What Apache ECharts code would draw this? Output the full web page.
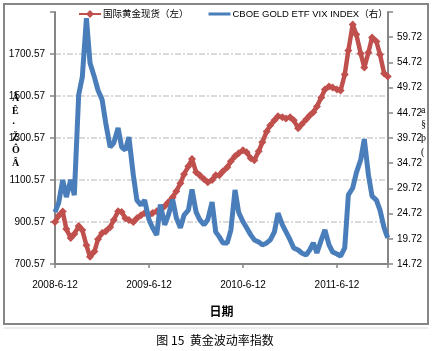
<!DOCTYPE html>
<html><head><meta charset="utf-8">
<script src="https://cdn.jsdelivr.net/npm/echarts@6/dist/echarts.min.js"></script>
<style>html,body{margin:0;padding:0;background:#fff}#c{width:432px;height:351px}</style>
</head><body><div id="c"></div>
<script>
// Sample dates (half-monthly)
const dates = [
 '2008-06-12','2008-06-26','2008-07-12','2008-07-26','2008-08-12','2008-08-26','2008-09-12','2008-09-26','2008-10-12','2008-10-26','2008-11-12','2008-11-26','2008-12-12','2008-12-26',
 '2009-01-12','2009-01-26','2009-02-12','2009-02-26','2009-03-12','2009-03-26','2009-04-12','2009-04-26','2009-05-12','2009-05-26','2009-06-12','2009-06-26','2009-07-12','2009-07-26','2009-08-12','2009-08-26','2009-09-12','2009-09-26','2009-10-12','2009-10-26','2009-11-12','2009-11-26','2009-12-12','2009-12-26',
 '2010-01-12','2010-01-26','2010-02-12','2010-02-26','2010-03-12','2010-03-26','2010-04-12','2010-04-26','2010-05-12','2010-05-26','2010-06-12','2010-06-26','2010-07-12','2010-07-26','2010-08-12','2010-08-26','2010-09-12','2010-09-26','2010-10-12','2010-10-26','2010-11-12','2010-11-26','2010-12-12','2010-12-26',
 '2011-01-12','2011-01-26','2011-02-12','2011-02-26','2011-03-12','2011-03-26','2011-04-12','2011-04-26','2011-05-12','2011-05-26','2011-06-12','2011-06-26','2011-07-12','2011-07-26','2011-08-12','2011-08-26','2011-09-12','2011-09-26','2011-10-12','2011-10-26','2011-11-12','2011-11-26','2011-12-12','2011-12-26'
];
// 国际黄金现货 (left axis)
const goldSpot = [
 900,930,950,867,824,843,881,862,790,735,760,819,848,857,
 876,910,952,948,919,910,900,919,933,943,933,943,952,962,976,995,1019,1047,1085,1128,1166,1200,1138,1123,
 1104,1090,1100,1123,1123,1142,1161,1190,1214,1228,1242,1233,1204,1195,1237,1280,1332,1361,1385,1404,1399,1394,1399,1385,
 1347,1366,1389,1408,1423,1451,1494,1532,1546,1541,1532,1527,1603,1717,1841,1793,1703,1636,1708,1779,1760,1698,1608,1594
];
// CBOE GOLD ETF VIX INDEX (right axis)
const gvzIndex = [
 25.0,26.8,31.4,28.0,31.4,28.4,48.3,51.8,63.5,54.6,51.8,49.2,47.3,42.7,
 37.9,38.7,41.7,37.9,37.3,39.9,32.4,27.4,26.4,27.4,23.5,21.9,20.5,26.5,22.5,24.4,27.5,23.9,21.9,24.4,25.4,29.5,25.0,23.5,
 22.5,23.5,27.0,21.1,20.1,18.9,18.9,21.5,29.4,25.0,23.1,21.9,20.5,19.5,19.1,18.5,18.9,19.5,21.1,24.8,22.5,21.1,19.5,17.9,
 17.5,16.9,16.5,17.5,18.9,16.9,19.5,21.5,18.5,17.1,16.7,16.3,17.9,28.4,29.8,32.8,35.4,39.5,32.4,28.2,27.4,25.4,21.9,19.9
];
const xTickLabels = ['2008-6-12','2009-6-12','2010-6-12','2011-6-12',''];
const leftTickLabels = ['700.57','900.57','1100.57','1300.57','1500.57','1700.57',''];
const rightTickLabels = ['14.72','19.72','24.72','29.72','34.72','39.72','44.72','49.72','54.72','59.72',''];
const seriesNames = ['国际黄金现货（左）','CBOE GOLD ETF VIX INDEX（右）'];
const leftAxisName = 'Ã\nÊ\n·\nŽ\nÔ\nÂ';
const rightAxisName = 'a\n§\nþ\n(';
const caption = '图 15  黄金波动率指数';
const xAxisName = '日期';

const START = Date.parse('2008-06-12');
const END = Date.parse('2011-12-27');
const DAY = 864e5;
const LEFT_SHIFT = 0.57, RIGHT_SHIFT = 4.72;
const toDay = d => (Date.parse(d) - START) / DAY;

const goldData = dates.map((d, i) => [toDay(d), goldSpot[i] - LEFT_SHIFT]);
const gvzData = dates.map((d, i) => [toDay(d), gvzIndex[i] - RIGHT_SHIFT]);

const FONT = "'Liberation Sans', 'Noto Sans CJK SC', sans-serif";
const axisLineStyle = {color: '#868686', width: 2};
const RED = '#C0504D', BLUE = '#4A7EBB';

const chart = echarts.init(document.getElementById('c'), null, {renderer: 'canvas'});
chart.setOption({
  animation: false,
  backgroundColor: '#fff',
  grid: {left: 55, right: 44, top: 12, bottom: 87, containLabel: false, outerBoundsMode: 'none'},
  legend: {
    data: [
      {name: seriesNames[0]},
      {name: seriesNames[1], icon: 'path://M0,0L0,0ZM0,3.5L22,3.5L22,6.5L0,6.5ZM22,10L22,10Z', itemStyle: {color: BLUE}}
    ],
    left: 78, top: 9, padding: 0,
    itemWidth: 22, itemHeight: 10, itemGap: 20,
    textStyle: {fontSize: 9.5, fontFamily: FONT, color: '#000', padding: [0,0,0,-3]}
  },
  xAxis: {
    type: 'value', min: 0, max: (END - START) / DAY, interval: 365,
    name: xAxisName, nameLocation: 'middle', nameGap: 41,
    nameTextStyle: {fontSize: 12, fontWeight: 'bold', color: '#000', fontFamily: "'Noto Sans CJK SC', sans-serif"},
    axisLine: {show: true, lineStyle: axisLineStyle, onZero: false},
    axisTick: {show: true, length: 4, inside: false, lineStyle: {color: '#868686', width: 1.5}},
    axisLabel: {margin: 16, fontSize: 10, fontFamily: FONT, color: '#000',
      formatter: (v, i) => xTickLabels[i] ?? ''},
    splitLine: {show: false}
  },
  yAxis: [{
    type: 'value', min: 700, max: 1900, interval: 200, position: 'left',
    axisLine: {show: true, lineStyle: axisLineStyle},
    axisTick: {show: true, length: 5, lineStyle: {color: '#868686', width: 1.5}},
    axisLabel: {margin: 10, fontSize: 10, fontFamily: FONT, color: '#000',
      formatter: (v, i) => leftTickLabels[i] ?? ''},
    splitLine: {show: true, showMinLine: false, showMaxLine: false,
      lineStyle: {color: '#d0d0d0', width: 1.5, type: [6, 2, 2, 2]}}
  }, {
    type: 'value', min: 10, max: 60, interval: 5, position: 'right',
    axisLine: {show: true, lineStyle: axisLineStyle},
    axisTick: {show: true, length: 5, lineStyle: {color: '#868686', width: 1.5}},
    axisLabel: {margin: 9, fontSize: 10, fontFamily: FONT, color: '#000',
      formatter: (v, i) => rightTickLabels[i] ?? ''},
    splitLine: {show: false}
  }],
  series: [{
    name: seriesNames[0], type: 'line', yAxisIndex: 0, data: goldData,
    symbol: 'diamond', symbolSize: 8, showSymbol: true,
    lineStyle: {color: RED, width: 4.5}, itemStyle: {color: RED}, z: 2
  }, {
    name: seriesNames[1], type: 'line', yAxisIndex: 1, data: gvzData,
    symbol: 'none', showSymbol: false,
    lineStyle: {color: BLUE, width: 5}, itemStyle: {color: BLUE}, z: 3
  }],
  graphic: [
    {type: 'text', left: 12, top: 92, z: 10,
      style: {text: leftAxisName, fontSize: 10, fontWeight: 'bold', fontFamily: "'Liberation Serif', serif", fill: '#000', lineHeight: 13, align: 'center'}},
    {type: 'text', left: 421, top: 103, z: 10,
      style: {text: rightAxisName, fontSize: 10, fontFamily: "'Liberation Serif', serif", fill: '#000', lineHeight: 14}},
    {type: 'rect', shape: {x: 429, y: 0, width: 10, height: 330}, style: {fill: '#fff'}, z: 11},
    {type: 'rect', shape: {x: 4, y: 4, width: 424, height: 320}, style: {fill: 'none', stroke: '#868686', lineWidth: 2}, z: 12},
    {type: 'line', shape: {x1: 4, y1: 328, x2: 428, y2: 328}, style: {stroke: '#ececec', lineWidth: 2}, z: 12},
    {type: 'text', x: 215, y: 340, z: 10,
      style: {text: caption, fontSize: 12, fontFamily: "'Noto Sans CJK SC', sans-serif", fill: '#000', align: 'center', verticalAlign: 'middle'}}
  ]
});
</script></body></html>
